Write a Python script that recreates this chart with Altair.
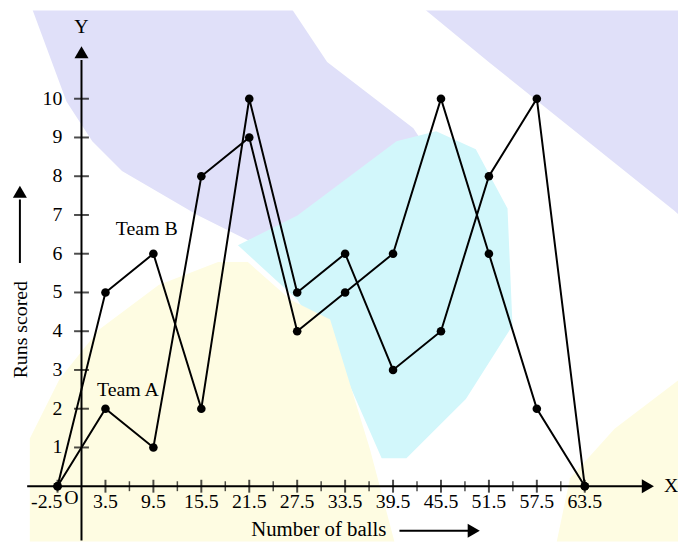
import altair as alt
import pandas as pd

# ---- data ----
x_mid = [-2.5, 3.5, 9.5, 15.5, 21.5, 27.5, 33.5, 39.5, 45.5, 51.5, 57.5, 63.5]
team_a = [0, 2, 1, 8, 9, 4, 5, 6, 10, 6, 2, 0]
team_b = [0, 5, 6, 2, 10, 5, 6, 3, 4, 8, 10, 0]
x_labels = ["3.5", "9.5", "15.5", "21.5", "27.5", "33.5", "39.5", "45.5", "51.5", "57.5", "63.5"]
x_label_vals = [3.5, 9.5, 15.5, 21.5, 27.5, 33.5, 39.5, 45.5, 51.5, 57.5, 63.5]
minor_ticks = [6.5, 12.5, 18.5, 24.5, 30.5, 36.5, 42.5, 48.5, 54.5, 60.5]
y_ticks = [1, 2, 3, 4, 5, 6, 7, 8, 9, 10]

# ---- faint watermark backdrop (decoration only, pixel space of the plot area) ----
bg_lavender_1 = [(22, -8), (282, -8), (322, 52), (409, 119), (447, 177), (412, 207), (322, 207), (242, 232), (192, 207), (115, 162), (85, 132), (59, 92)]
bg_cyan = [(232, 237), (292, 207), (392, 132), (432, 122), (472, 140), (504, 200), (509, 318), (462, 392), (402, 452), (377, 452), (342, 372), (292, 292)]
bg_yellow_1 = [(22, 544), (22, 432), (52, 372), (92, 322), (152, 277), (212, 254), (242, 254), (285, 292), (325, 312), (365, 442), (392, 544)]
bg_yellow_2 = [(552, 544), (567, 472), (612, 422), (678, 372), (678, 544)]
bg_lavender_2 = [(412, -8), (678, -8), (678, 207), (672, 202), (485, 52)]
bg_colors = ["#e0e0f9", "#d2f7fb", "#fefce2", "#fefce2", "#e0e0f9"]

FONT = "Liberation Serif"
W, H = 676, 536
xs = alt.Scale(domain=[-8.7, 75.17], nice=False, zero=False)
ys = alt.Scale(domain=[-1.43, 12.28], nice=False, zero=False)


def X(f="x"):
    return alt.X(f"{f}:Q", scale=xs, axis=None)


def Y(f="y"):
    return alt.Y(f"{f}:Q", scale=ys, axis=None)


feats = []
for poly, col in zip([bg_lavender_1, bg_cyan, bg_yellow_1, bg_yellow_2, bg_lavender_2], bg_colors):
    ring = [list(p) for p in poly] + [list(poly[0])]
    feats.append({"type": "Feature", "properties": {"c": col},
                  "geometry": {"type": "Polygon", "coordinates": [ring]}})
bg = alt.Chart(alt.Data(values=feats)).mark_geoshape(strokeWidth=0, opacity=1).encode(
    color=alt.Color("properties.c:N", scale=None)
).project(type="identity", reflectY=False, scale=1, translate=[0, 0])

rows = []
for team, vals in (("Team A", team_a), ("Team B", team_b)):
    for i, (xv, yv) in enumerate(zip(x_mid, vals)):
        rows.append({"team": team, "i": i, "x": xv, "y": yv})
df = pd.DataFrame(rows)

lines = alt.Chart(df).mark_line(color="black", strokeWidth=2).encode(
    x=X(), y=Y(), detail="team:N", order="i:Q")
pts = alt.Chart(df).mark_circle(color="black", opacity=1, size=75).encode(x=X(), y=Y())

# axes
AX_Y0 = 0.5  # y-axis drawn midway between -2.5 and 3.5
axis_lines = alt.Chart(pd.DataFrame([
    {"x": -6.3, "x2": 71.0, "y": 0, "y2": 0},
    {"x": AX_Y0, "x2": AX_Y0, "y": -1.4, "y2": 11.0},
])).mark_rule(color="black", strokeWidth=2).encode(x=X(), x2="x2:Q", y=Y(), y2="y2:Q")

arrows = alt.Chart(pd.DataFrame([
    {"x": 71.4, "y": 0, "s": "triangle-right"},
    {"x": AX_Y0, "y": 11.2, "s": "triangle-up"},
    {"x": 49.6, "y": -1.15, "s": "triangle-right"},
    {"x": -7.21, "y": 7.6, "s": "triangle-up"},
])).mark_point(filled=True, color="black", opacity=1, size=200).encode(
    x=X(), y=Y(), shape=alt.Shape("s:N", scale=None))

title_arrows = alt.Chart(pd.DataFrame([
    {"x": 40.3, "x2": 49.0, "y": -1.15, "y2": -1.15},
    {"x": -7.21, "x2": -7.21, "y": 5.76, "y2": 7.4},
])).mark_rule(color="black", strokeWidth=2).encode(x=X(), x2="x2:Q", y=Y(), y2="y2:Q")

major_df = pd.DataFrame({"x": [-2.5] + x_label_vals, "y": 0})
major = alt.Chart(major_df).mark_tick(orient="vertical", color="black", size=13, thickness=2).encode(x=X(), y=Y())
minor = alt.Chart(pd.DataFrame({"x": minor_ticks, "y": 0})).mark_tick(
    orient="vertical", color="black", size=10, thickness=1.5).encode(x=X(), y=Y())
ytk = alt.Chart(pd.DataFrame({"x": AX_Y0, "y": y_ticks})).mark_tick(
    orient="horizontal", color="black", size=15, thickness=2).encode(x=X(), y=Y())

xlab = alt.Chart(pd.DataFrame({"x": x_label_vals, "t": x_labels, "y": -0.40})).mark_text(
    font=FONT, fontSize=20, align="center", baseline="middle", color="black").encode(x=X(), y=Y(), text="t:N")
xlab0 = alt.Chart(pd.DataFrame({"x": [-2.5], "t": ["-2.5"], "y": [-0.40]})).mark_text(
    font=FONT, fontSize=20, align="right", baseline="middle", dx=5, color="black").encode(x=X(), y=Y(), text="t:N")
ylab = alt.Chart(pd.DataFrame({"x": -1.9, "y": y_ticks})).mark_text(
    font=FONT, fontSize=20, align="right", baseline="middle", color="black").encode(x=X(), y=Y(), text="y:Q")

annot = alt.Chart(pd.DataFrame([
    {"x": -0.76, "y": -0.30, "t": "O"},
    {"x": 74.3, "y": 0.0, "t": "X"},
    {"x": AX_Y0, "y": 11.85, "t": "Y"},
    {"x": 8.67, "y": 6.63, "t": "Team B"},
    {"x": 6.31, "y": 2.48, "t": "Team A"},
])).mark_text(font=FONT, fontSize=20, align="center", baseline="middle", color="black").encode(
    x=X(), y=Y(), text="t:N")
xtitle = alt.Chart(pd.DataFrame([{"x": 30.2, "y": -1.275, "t": "Number of balls"}])).mark_text(
    font=FONT, fontSize=21, align="center", baseline="alphabetic", color="black").encode(
    x=X(), y=Y(), text="t:N")
ytitle = alt.Chart(pd.DataFrame([{"x": -7.05, "y": 4.04, "t": "Runs scored"}])).mark_text(
    font=FONT, fontSize=20, align="center", baseline="middle", angle=270, color="black").encode(
    x=X(), y=Y(), text="t:N")

chart = alt.layer(
    bg, lines, pts, axis_lines, arrows, title_arrows, major, minor, ytk,
    xlab, xlab0, ylab, annot, xtitle, ytitle
).properties(
    width=W, height=H, padding=0, autosize=alt.AutoSizeParams(type="none"),
    background="white"
).configure_view(stroke=None)

chart.save("out.html", embed_options={"renderer": "svg", "actions": False})
